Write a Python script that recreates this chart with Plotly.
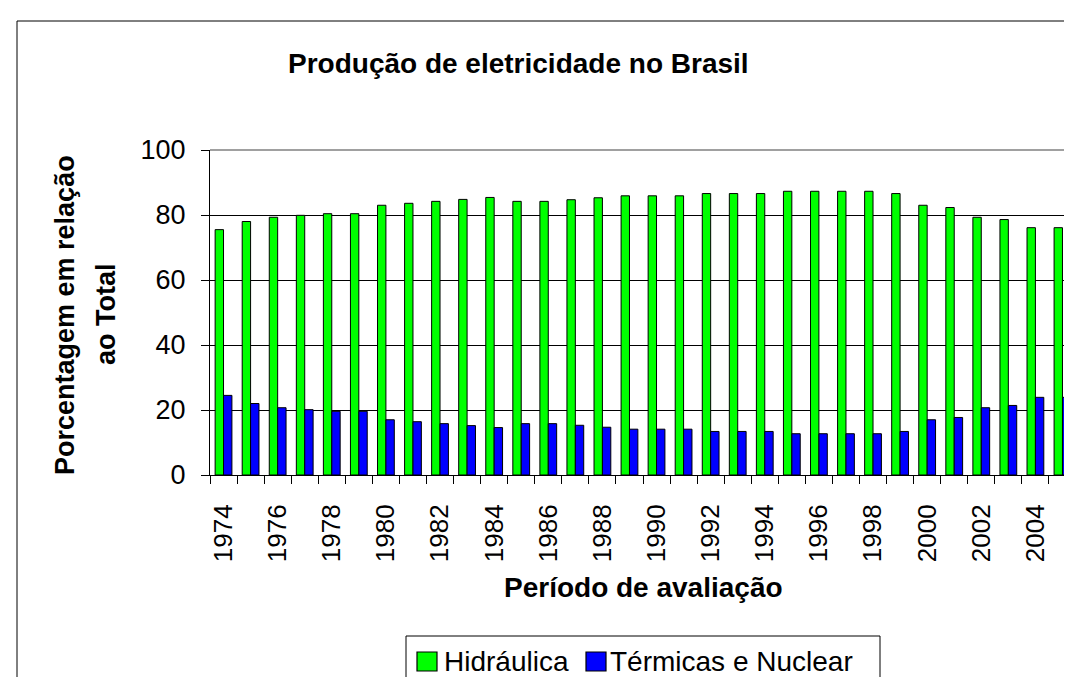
import plotly.graph_objects as go

# ---- data ----
years = list(range(1974, 2006))
hidraulica = [75.5, 78.0, 79.3, 79.9, 80.4, 80.4, 83.0, 83.6, 84.2, 84.8, 85.4, 84.2,
              84.2, 84.7, 85.3, 85.9, 85.9, 85.9, 86.6, 86.6, 86.6, 87.3, 87.3, 87.3,
              87.3, 86.6, 83.0, 82.3, 79.3, 78.6, 76.1, 76.1]
termicas = [24.5, 22.0, 20.7, 20.1, 19.6, 19.6, 17.0, 16.4, 15.8, 15.2, 14.6, 15.8,
            15.8, 15.3, 14.7, 14.1, 14.1, 14.1, 13.4, 13.4, 13.4, 12.7, 12.7, 12.7,
            12.7, 13.4, 17.0, 17.7, 20.7, 21.4, 23.9, 23.9]
label_years = list(range(1974, 2006, 2))
y_ticks = [0, 20, 40, 60, 80, 100]

series_names = ["Hidráulica", "Térmicas e Nuclear"]
series_colors = ["#00FF00", "#0000FF"]

title_text = "Produção de eletricidade no Brasil"
ytitle_lines = ["Porcentagem em relação", "ao Total"]
xtitle_text = "Período de avaliação"

# ---- layout geometry (pixels) ----
W, H = 1072, 677
L, R, T, B = 202, 1068, 142, 467


def px(x):
    return (x - L) / (R - L)


def py(y):
    return (B - y) / (B - T)


FONT = "Arial, Liberation Sans, sans-serif"

fig = go.Figure()
for name, vals, col in zip(series_names, [hidraulica, termicas], series_colors):
    fig.add_bar(x=years, y=vals, name=name, showlegend=False,
                marker=dict(color=col, line=dict(color="black", width=1)))

fig.update_layout(
    width=W, height=H,
    margin=dict(l=L, r=W - R, t=T, b=H - B, pad=0),
    barmode="group", bargap=0.38, bargroupgap=0,
    plot_bgcolor="white", paper_bgcolor="white",
    font=dict(family=FONT, color="black"),
)

fig.update_xaxes(
    type="linear", range=[1973.5, 2005.5],
    tickmode="array", tickvals=label_years, ticktext=[str(y) for y in label_years],
    tickangle=-90, ticks="outside", ticklen=8, tickcolor="rgba(0,0,0,0)",
    tickfont=dict(size=26, family=FONT, color="black"),
    showline=True, linecolor="black", linewidth=1,
    showgrid=False, zeroline=False,
    minor=dict(ticks="outside", ticklen=8, tickcolor="black", tickwidth=1,
               tick0=1973.5, dtick=1, showgrid=False),
    ticklabelstandoff=10,
)

fig.update_yaxes(
    range=[0, 100], tickmode="array", tickvals=y_ticks,
    ticks="outside", ticklen=8, tickcolor="black", tickwidth=1,
    tickfont=dict(size=27, family=FONT, color="black"),
    showline=True, linecolor="black", linewidth=1,
    showgrid=True, gridcolor="black", gridwidth=1,
    zeroline=False, ticklabelstandoff=10,
)

shapes = []
# outer chart border
shapes.append(dict(type="rect", xref="paper", yref="paper",
                   x0=px(9), x1=px(1100), y0=py(13), y1=py(720),
                   line=dict(color="black", width=1), layer="below"))
# plot area border top & right (gray)
shapes.append(dict(type="line", xref="paper", yref="paper", x0=0, x1=1, y0=1, y1=1,
                   line=dict(color="#808080", width=1.5), layer="above"))
shapes.append(dict(type="line", xref="paper", yref="paper", x0=1, x1=1, y0=0, y1=1,
                   line=dict(color="#808080", width=1.5), layer="above"))
# legend box
shapes.append(dict(type="rect", xref="paper", yref="paper",
                   x0=px(398), x1=px(872), y0=py(628), y1=py(720),
                   line=dict(color="black", width=1), fillcolor="white", layer="above"))
# legend symbols
for (x0, x1), col in zip([(409, 429), (578, 598)], series_colors):
    shapes.append(dict(type="rect", xref="paper", yref="paper",
                       x0=px(x0), x1=px(x1), y0=py(644), y1=py(663),
                       line=dict(color="black", width=1.2), fillcolor=col, layer="above"))

annotations = []
annotations.append(dict(text=f"<b>{title_text}</b>", xref="paper", yref="paper",
                        x=px(510), y=py(56), xanchor="center", yanchor="middle",
                        showarrow=False, font=dict(size=28, family=FONT, color="black")))
annotations.append(dict(text=f"<b>{ytitle_lines[0]}</b>", xref="paper", yref="paper",
                        x=px(57), y=py(307), xanchor="center", yanchor="middle",
                        textangle=-90, showarrow=False,
                        font=dict(size=27, family=FONT, color="black")))
annotations.append(dict(text=f"<b>{ytitle_lines[1]}</b>", xref="paper", yref="paper",
                        x=px(98), y=py(306), xanchor="center", yanchor="middle",
                        textangle=-90, showarrow=False,
                        font=dict(size=27, family=FONT, color="black")))
annotations.append(dict(text=f"<b>{xtitle_text}</b>", xref="paper", yref="paper",
                        x=px(635), y=py(579), xanchor="center", yanchor="middle",
                        showarrow=False, font=dict(size=28, family=FONT, color="black")))
for xl, name in zip([434, 600], series_names):
    annotations.append(dict(text=name, xref="paper", yref="paper",
                            x=px(xl), y=py(653), xanchor="left", yanchor="middle",
                            showarrow=False, font=dict(size=28, family=FONT, color="black")))

fig.update_layout(shapes=shapes, annotations=annotations)

fig.write_html("out.html")
